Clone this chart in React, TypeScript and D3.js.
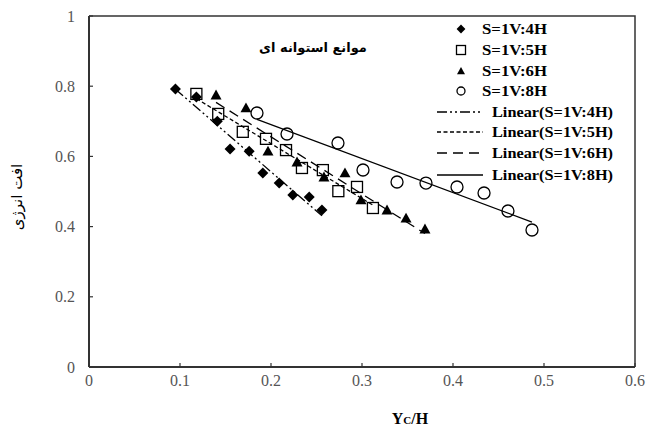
import React from "react";
import * as d3 from "d3";

const xTicks = [0, 0.1, 0.2, 0.3, 0.4, 0.5, 0.6];
const yTicks = [0, 0.2, 0.4, 0.6, 0.8, 1];

const x4H = [0.095, 0.118, 0.141, 0.155, 0.176, 0.191, 0.209, 0.224, 0.242, 0.256];
const y4H = [0.792, 0.769, 0.70, 0.621, 0.615, 0.553, 0.524, 0.49, 0.484, 0.447];

const x5H = [0.118, 0.142, 0.169, 0.1945, 0.2165, 0.234, 0.257, 0.274, 0.2945, 0.312];
const y5H = [0.778, 0.721, 0.67, 0.65, 0.618, 0.567, 0.561, 0.501, 0.513, 0.453];

const x6H = [0.1396, 0.1725, 0.1967, 0.2286, 0.2582, 0.2813, 0.2989, 0.3275, 0.3484, 0.3692];
const y6H = [0.775, 0.738, 0.615, 0.584, 0.541, 0.553, 0.476, 0.447, 0.424, 0.393];

const x8H = [0.1846, 0.2176, 0.2736, 0.3011, 0.3385, 0.3703, 0.4044, 0.4341, 0.4604, 0.4868];
const y8H = [0.7236, 0.6638, 0.6382, 0.5613, 0.527, 0.524, 0.5128, 0.4957, 0.4444, 0.3903];

const seriesNames = ["S=1V:4H", "S=1V:5H", "S=1V:6H", "S=1V:8H"];
const trendNames = ["Linear(S=1V:4H)", "Linear(S=1V:5H)", "Linear(S=1V:6H)", "Linear(S=1V:8H)"];
const titleText = "موانع استوانه ای";
const yLabel = "افت انرژی";

const W = 647, H = 429;
const left = 89, right = 635, top = 16, bottom = 367;

const xScale = d3.scaleLinear().domain([0, 0.6]).range([left, right]);
const yScale = d3.scaleLinear().domain([0, 1]).range([bottom, top]);

const dashes = ["10,3,2,3,2,3", "4,2.5", "10,6", ""];

function fit(xs: number[], ys: number[]) {
  const mx = d3.mean(xs)!, my = d3.mean(ys)!;
  let sxy = 0, sxx = 0;
  xs.forEach((x, i) => { sxy += (x - mx) * (ys[i] - my); sxx += (x - mx) * (x - mx); });
  const b = sxy / sxx;
  const a = my - b * mx;
  const x0 = d3.min(xs)!, x1 = d3.max(xs)!;
  return [[x0, a + b * x0], [x1, a + b * x1]] as [number, number][];
}

function Marker({ kind, cx, cy, s }: { kind: number; cx: number; cy: number; s: number }) {
  if (kind === 0) {
    const r = s * 0.55;
    return <path d={`M${cx},${cy - r}L${cx + r},${cy}L${cx},${cy + r}L${cx - r},${cy}Z`} fill="#000" />;
  }
  if (kind === 1) {
    const h = s / 2;
    return <rect x={cx - h} y={cy - h} width={s} height={s} fill="#fff" fillOpacity={0} stroke="#000" strokeWidth={1.3} />;
  }
  if (kind === 2) {
    const h = s / 2;
    return <path d={`M${cx},${cy - h}L${cx + h},${cy + h * 0.8}L${cx - h},${cy + h * 0.8}Z`} fill="#000" />;
  }
  return <circle cx={cx} cy={cy} r={s / 2} fill="none" stroke="#000" strokeWidth={1.3} />;
}

export default function App() {
  const sets = [[x4H, y4H], [x5H, y5H], [x6H, y6H], [x8H, y8H]];
  const sizes = [10, 11, 11, 12];
  const line = d3.line<[number, number]>().x(d => xScale(d[0])).y(d => yScale(d[1]));
  const serif = "'Liberation Serif', 'Times New Roman', serif";
  return (
    <svg width={W} height={H} style={{ position: "absolute", left: 0, top: 0, background: "#fff" }}>
      <rect width={W} height={H} fill="#fff" />
      {/* frame */}
      <path d={`M${left},${top}H${right}V${bottom}`} fill="none" stroke="#333" strokeWidth={1.5} />
      <line x1={left} x2={left} y1={top} y2={bottom} stroke="#333" strokeWidth={2} />
      <line x1={left} x2={right} y1={bottom} y2={bottom} stroke="#333" strokeWidth={2} />
      {xTicks.map(t => (
        <g key={"x" + t}>
          <line x1={xScale(t)} x2={xScale(t)} y1={bottom} y2={bottom - 4} stroke="#333" strokeWidth={1.2} />
          <text x={xScale(t)} y={386} textAnchor="middle" fontFamily={serif} fontSize={16} fill="#555">{String(t)}</text>
        </g>
      ))}
      {yTicks.map(t => (
        <g key={"y" + t}>
          <line x1={left} x2={left + 4} y1={yScale(t)} y2={yScale(t)} stroke="#333" strokeWidth={1.2} />
          <text x={75} y={yScale(t) + 5.5} textAnchor="end" fontFamily={serif} fontSize={16} fill="#555">{String(t)}</text>
        </g>
      ))}
      {/* trend lines */}
      {sets.map((s, i) => (
        <path key={"t" + i} d={line(fit(s[0], s[1]))!} fill="none" stroke="#000" strokeWidth={1.3} strokeDasharray={dashes[i] || undefined} />
      ))}
      {/* points */}
      {sets.map((s, i) => s[0].map((xv, j) => (
        <Marker key={`m${i}-${j}`} kind={i} cx={xScale(xv)} cy={yScale(s[1][j])} s={sizes[i]} />
      )))}
      {/* title */}
      <text x={313} y={52} textAnchor="middle" fontFamily="'DejaVu Sans', sans-serif" fontWeight="bold" fontSize={13} fill="#000" direction="rtl">{titleText}</text>
      {/* legend */}
      {seriesNames.map((n, i) => (
        <g key={"l" + i}>
          <Marker kind={i} cx={461} cy={[29, 50, 71, 91][i]} s={[8, 9, 8, 8][i]} />
          <text x={482} y={[29, 50, 71, 91][i] + 5} fontFamily={serif} fontWeight="bold" fontSize={15} textLength={65} lengthAdjust="spacingAndGlyphs" fill="#000">{n}</text>
        </g>
      ))}
      {trendNames.map((n, i) => {
        const yy = [112, 132, 153, 175][i];
        return (
          <g key={"tl" + i}>
            <line x1={437} x2={483} y1={yy} y2={yy} stroke="#000" strokeWidth={1.4} strokeDasharray={dashes[i] || undefined} />
            <text x={492} y={yy + 5} fontFamily={serif} fontWeight="bold" fontSize={15} textLength={121} lengthAdjust="spacingAndGlyphs" fill="#000">{n}</text>
          </g>
        );
      })}
      {/* axis labels */}
      <text transform={`translate(22,197) rotate(-90)`} textAnchor="middle" fontFamily="'DejaVu Sans', sans-serif" fontSize={15} fill="#000" direction="rtl">{yLabel}</text>
      <text x={410} y={424} textAnchor="middle" fontFamily={serif} fontWeight="bold" fontSize={16} fill="#000">
        Y<tspan fontSize={11}>C</tspan>/H
      </text>
    </svg>
  );
}
